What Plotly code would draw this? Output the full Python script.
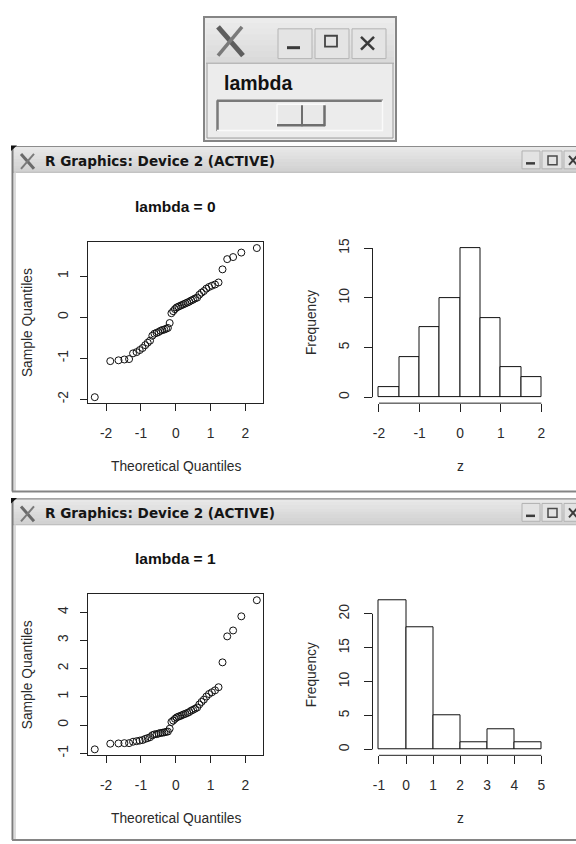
import plotly.graph_objects as go

# ---------------------------------------------------------------- data
# theoretical normal quantiles for n = 50 (ppoints)
theoretical_q = [-2.326, -1.881, -1.645, -1.476, -1.341, -1.227, -1.126, -1.036, -0.954, -0.878,
                 -0.806, -0.739, -0.674, -0.613, -0.553, -0.496, -0.440, -0.385, -0.332, -0.279,
                 -0.228, -0.176, -0.126, -0.075, -0.025, 0.025, 0.075, 0.126, 0.176, 0.228,
                 0.279, 0.332, 0.385, 0.440, 0.496, 0.553, 0.613, 0.674, 0.739, 0.806,
                 0.878, 0.954, 1.036, 1.126, 1.227, 1.341, 1.476, 1.645, 1.881, 2.326]

# sorted sample, lambda = 0
z_lambda0 = [-1.95, -1.07, -1.05, -1.03, -1.02, -0.88, -0.85, -0.80, -0.75, -0.68,
             -0.62, -0.57, -0.45, -0.40, -0.38, -0.36, -0.33, -0.31, -0.30, -0.28,
             -0.26, -0.14, 0.10, 0.15, 0.20, 0.24, 0.26, 0.28, 0.30, 0.32,
             0.34, 0.36, 0.38, 0.41, 0.43, 0.46, 0.48, 0.55, 0.60, 0.64,
             0.70, 0.74, 0.77, 0.80, 0.85, 1.17, 1.42, 1.47, 1.58, 1.69]

# sorted sample, lambda = 1
z_lambda1 = [-0.86, -0.66, -0.65, -0.64, -0.64, -0.59, -0.57, -0.55, -0.53, -0.49,
             -0.46, -0.43, -0.36, -0.33, -0.32, -0.30, -0.28, -0.27, -0.26, -0.24,
             -0.23, -0.13, 0.11, 0.16, 0.22, 0.27, 0.30, 0.32, 0.35, 0.38,
             0.40, 0.43, 0.46, 0.51, 0.54, 0.58, 0.62, 0.73, 0.82, 0.90,
             1.01, 1.10, 1.16, 1.23, 1.34, 2.22, 3.14, 3.35, 3.85, 4.42]

qq_xticks = [-2, -1, 0, 1, 2]
qq0_yticks = [-2, -1, 0, 1]
qq1_yticks = [-1, 0, 1, 2, 3, 4]
hist0_xticks = [-2, -1, 0, 1, 2]
hist0_yticks = [0, 5, 10, 15]
hist1_xticks = [-1, 0, 1, 2, 3, 4, 5]
hist1_yticks = [0, 5, 10, 15, 20]
hist0_bins = dict(start=-2, end=2, size=0.5)
hist1_bins = dict(start=-1, end=5, size=1)
hist0_ymax = 15
hist1_ymax = 22
panel_titles = ["lambda = 0", "lambda = 1"]

# ---------------------------------------------------------------- layout helpers
W, H = 576, 844
SANS = "Liberation Sans, Arial, sans-serif"
TXT = "#1e1e1e"
FS = 13.8  # base R text size


def px(x):
    return x / W


def py(y):
    return 1 - y / H


def rext(lo, hi):
    d = (hi - lo) * 0.04
    return [lo - d, hi + d]


shapes = []
annotations = []


def rect(x0, y0, x1, y1, fill, line="rgba(0,0,0,0)", width=0):
    shapes.append(dict(type="rect", xref="paper", yref="paper",
                       x0=px(x0), x1=px(x1), y0=py(y1), y1=py(y0),
                       fillcolor=fill, line=dict(color=line, width=width), layer="above"))


def seg(x0, y0, x1, y1, color, width=1):
    shapes.append(dict(type="line", xref="paper", yref="paper",
                       x0=px(x0), x1=px(x1), y0=py(y0), y1=py(y1),
                       line=dict(color=color, width=width), layer="above"))


def text(x, y, s, size, color=TXT, family=SANS, xanchor="center", angle=0):
    annotations.append(dict(x=px(x), y=py(y), xref="paper", yref="paper", text=s,
                            showarrow=False, xanchor=xanchor, yanchor="middle",
                            textangle=angle, font=dict(family=family, size=size, color=color)))


def gradient_bar(x0, y0, x1, y1, c_top, c_bot, n=8):
    h = (y1 - y0) / n
    for i in range(n):
        t = i / (n - 1)
        c = tuple(round(a + (b - a) * t) for a, b in zip(c_top, c_bot))
        rect(x0, y0 + i * h, x1, y0 + (i + 1) * h + 0.5, "rgb(%d,%d,%d)" % c)


# ---------------------------------------------------------------- Tk slider window
rect(204, 13, 396, 138, "#ececec", "#858585", 2)
gradient_bar(206, 14, 394, 58, (236, 236, 236), (218, 218, 218))
seg(206, 59.5, 394, 59.5, "#a8a8a8", 1.2)
seg(207, 60, 207, 135, "#9a9a9a", 1)
seg(393, 60, 393, 135, "#9a9a9a", 1)
seg(207, 135, 393, 135, "#9a9a9a", 1)
# window-manager icon
seg(218, 23, 243, 52, "#5e5e5e", 5)
seg(242, 23, 218, 52, "#7a7a7a", 3.5)
# title bar buttons
for bx0, bx1 in [(278, 312), (315, 349), (352, 386)]:
    rect(bx0, 25, bx1, 55, "#e4e4e4", "#b4b4b4", 1)
seg(287, 44, 300, 44, "#3a3a3a", 3)
rect(325, 32, 337, 43, "rgba(0,0,0,0)", "#444444", 1.8)
seg(361, 33, 374, 46, "#3a3a3a", 2.5)
seg(374, 33, 361, 46, "#3a3a3a", 2.5)
text(222, 80, "<b>lambda</b>", 19.5, "#111111", xanchor="left")
# slider trough (sunken) and thumb (raised)
rect(217, 97, 383, 128, "#ececec")
seg(217, 97.5, 383, 97.5, "#7a7a7a", 2.5)
seg(217.5, 97, 217.5, 128, "#7a7a7a", 2.5)
seg(217, 127.5, 383, 127.5, "#fafafa", 1.5)
seg(382.5, 97, 382.5, 128, "#fafafa", 1.5)
rect(277, 101, 325, 123, "#e9e9e9")
seg(277, 101, 325, 101, "#fbfbfb", 1.5)
seg(277, 101, 277, 123, "#fbfbfb", 1.5)
seg(277, 122, 325, 122, "#6e6e6e", 2.5)
seg(324.5, 102, 324.5, 123, "#6e6e6e", 2.5)
seg(302, 102, 302, 123, "#6e6e6e", 2)


# ---------------------------------------------------------------- R graphics device windows
def device_window(top, bottom):
    gradient_bar(12, top, 576, top + 26, (232, 232, 232), (210, 210, 210))
    seg(12, top + 0.5, 576, top + 0.5, "#8c8c8c", 1.2)
    seg(12, top + 26.5, 576, top + 26.5, "#b6b6b6", 1)
    seg(12.5, top, 12.5, bottom, "#7c7c7c", 2)
    seg(15, top + 26, 15, bottom, "#cfcfcf", 1.5)
    seg(12, bottom, 576, bottom, "#858585", 2)
    shapes.append(dict(type="path", xref="paper", yref="paper",
                       path="M %f %f L %f %f L %f %f Z" % (px(11), py(top - 0.5), px(17), py(top - 0.5),
                                                           px(11), py(top + 5)),
                       fillcolor="#111111", line=dict(width=0), layer="above"))
    seg(21, top + 8, 34, top + 23, "#6a6a6a", 3)
    seg(34, top + 8, 21, top + 23, "#7a7a7a", 2)
    text(43, top + 15, "<b>R Graphics: Device 2 (ACTIVE)</b>", 13.6, "#151515",
         family="DejaVu Sans, sans-serif", xanchor="left")
    for bx0, bx1 in [(522, 540), (542, 562), (564, 584)]:
        rect(bx0, top + 5, bx1, top + 23, "#e3e3e3", "#b2b2b2", 1)
    seg(526, top + 17.5, 535, top + 17.5, "#3c3c3c", 2.5)
    rect(548, top + 10, 557, top + 19, "rgba(0,0,0,0)", "#4a4a4a", 1.5)
    seg(569, top + 10, 577, top + 19, "#3c3c3c", 2)
    seg(577, top + 10, 569, top + 19, "#3c3c3c", 2)


WIN_TOPS = [143, 498]
WIN_BOTTOMS = [491, 842]
for t, b in zip(WIN_TOPS, WIN_BOTTOMS):
    device_window(t, b)

# ---------------------------------------------------------------- plots
PLOT_TOP, PLOT_BOT = 239.8, 402.0
OFFSETS = [0, 354.7]
QQ_X = (88.3, 263.3)
HI_X = (372.5, 547.8)

fig = go.Figure()

samples = [z_lambda0, z_lambda1]
qq_yticks = [qq0_yticks, qq1_yticks]
hist_bins = [hist0_bins, hist1_bins]
hist_xticks = [hist0_xticks, hist1_xticks]
hist_yticks = [hist0_yticks, hist1_yticks]
hist_ymax = [hist0_ymax, hist1_ymax]

axis_font = dict(family=SANS, size=FS, color="#2a2a2a")
layout_axes = {}
for k in range(2):
    off = OFFSETS[k]
    ydom = [py(PLOT_BOT + off), py(PLOT_TOP + off)]
    qa, ha = 2 * k + 1, 2 * k + 2
    qx, qy = "x%d" % qa, "y%d" % qa
    hx, hy = "x%d" % ha, "y%d" % ha

    # normal Q-Q plot
    fig.add_trace(go.Scatter(x=theoretical_q, y=samples[k], mode="markers",
                             xaxis=qx, yaxis=qy, showlegend=False,
                             marker=dict(symbol="circle-open", size=7, color="#111111",
                                         line=dict(width=1, color="#111111"))))
    layout_axes["xaxis%d" % qa] = dict(
        domain=[px(QQ_X[0]), px(QQ_X[1])], anchor=qy, range=rext(min(theoretical_q), max(theoretical_q)),
        tickvals=qq_xticks, ticktext=[str(v) for v in qq_xticks], ticks="outside", ticklen=7,
        tickcolor="#222", tickwidth=1, showline=True, mirror=True, linecolor="#222", linewidth=1,
        showgrid=False, zeroline=False, tickfont=axis_font, ticklabelstandoff=10, fixedrange=True)
    layout_axes["yaxis%d" % qa] = dict(
        domain=ydom, anchor=qx, range=rext(min(samples[k]), max(samples[k])),
        tickvals=qq_yticks[k], ticktext=[str(v) for v in qq_yticks[k]], ticks="outside", ticklen=7,
        tickcolor="#222", tickwidth=1, showline=True, mirror=True, linecolor="#222", linewidth=1,
        showgrid=False, zeroline=False, tickfont=axis_font, tickangle=-90, ticklabelstandoff=7,
        fixedrange=True)

    # histogram
    b = hist_bins[k]
    fig.add_trace(go.Histogram(x=samples[k], xbins=b, autobinx=False, xaxis=hx, yaxis=hy,
                               showlegend=False,
                               marker=dict(color="white", line=dict(color="#111111", width=1))))
    layout_axes["xaxis%d" % ha] = dict(
        domain=[px(HI_X[0]), px(HI_X[1])], anchor=hy, range=rext(b["start"], b["end"]),
        tickvals=hist_xticks[k], ticktext=[str(v) for v in hist_xticks[k]], ticks="outside", ticklen=8,
        tickcolor="#222", tickwidth=1, showline=False, showgrid=False, zeroline=False,
        tickfont=axis_font, ticklabelstandoff=9, fixedrange=True)
    layout_axes["yaxis%d" % ha] = dict(
        domain=ydom, anchor=hx, range=rext(0, hist_ymax[k]),
        tickvals=hist_yticks[k], ticktext=[str(v) for v in hist_yticks[k]], ticks="outside", ticklen=8,
        tickcolor="#222", tickwidth=1, showline=False, showgrid=False, zeroline=False,
        tickfont=axis_font, tickangle=-90, ticklabelstandoff=9, fixedrange=True)
    # R-style axis lines spanning first to last tick only
    shapes.append(dict(type="line", xref=hx, yref=hy + " domain",
                       x0=hist_xticks[k][0], x1=hist_xticks[k][-1], y0=0, y1=0,
                       line=dict(color="#222", width=1)))
    shapes.append(dict(type="line", xref=hx + " domain", yref=hy,
                       x0=0, x1=0, y0=hist_yticks[k][0], y1=hist_yticks[k][-1],
                       line=dict(color="#222", width=1)))

    # titles
    cq = (QQ_X[0] + QQ_X[1]) / 2
    ch = (HI_X[0] + HI_X[1]) / 2
    mid = (PLOT_TOP + PLOT_BOT) / 2 + off
    text(cq, 204 + off, "<b>%s</b>" % panel_titles[k], 15.5, "#111111")
    text(cq, 466 + off, "Theoretical Quantiles", FS, "#2a2a2a")
    text(ch, 466 + off, "z", FS, "#2a2a2a")
    text(27.5, mid, "Sample Quantiles", FS, "#2a2a2a", angle=-90)
    text(311.5, mid, "Frequency", FS, "#2a2a2a", angle=-90)

fig.update_layout(
    width=W, height=H, margin=dict(l=0, r=0, t=0, b=0),
    paper_bgcolor="white", plot_bgcolor="white",
    bargap=0, shapes=shapes, annotations=annotations, **layout_axes)

fig.write_html("out.html", config=dict(displayModeBar=False))
